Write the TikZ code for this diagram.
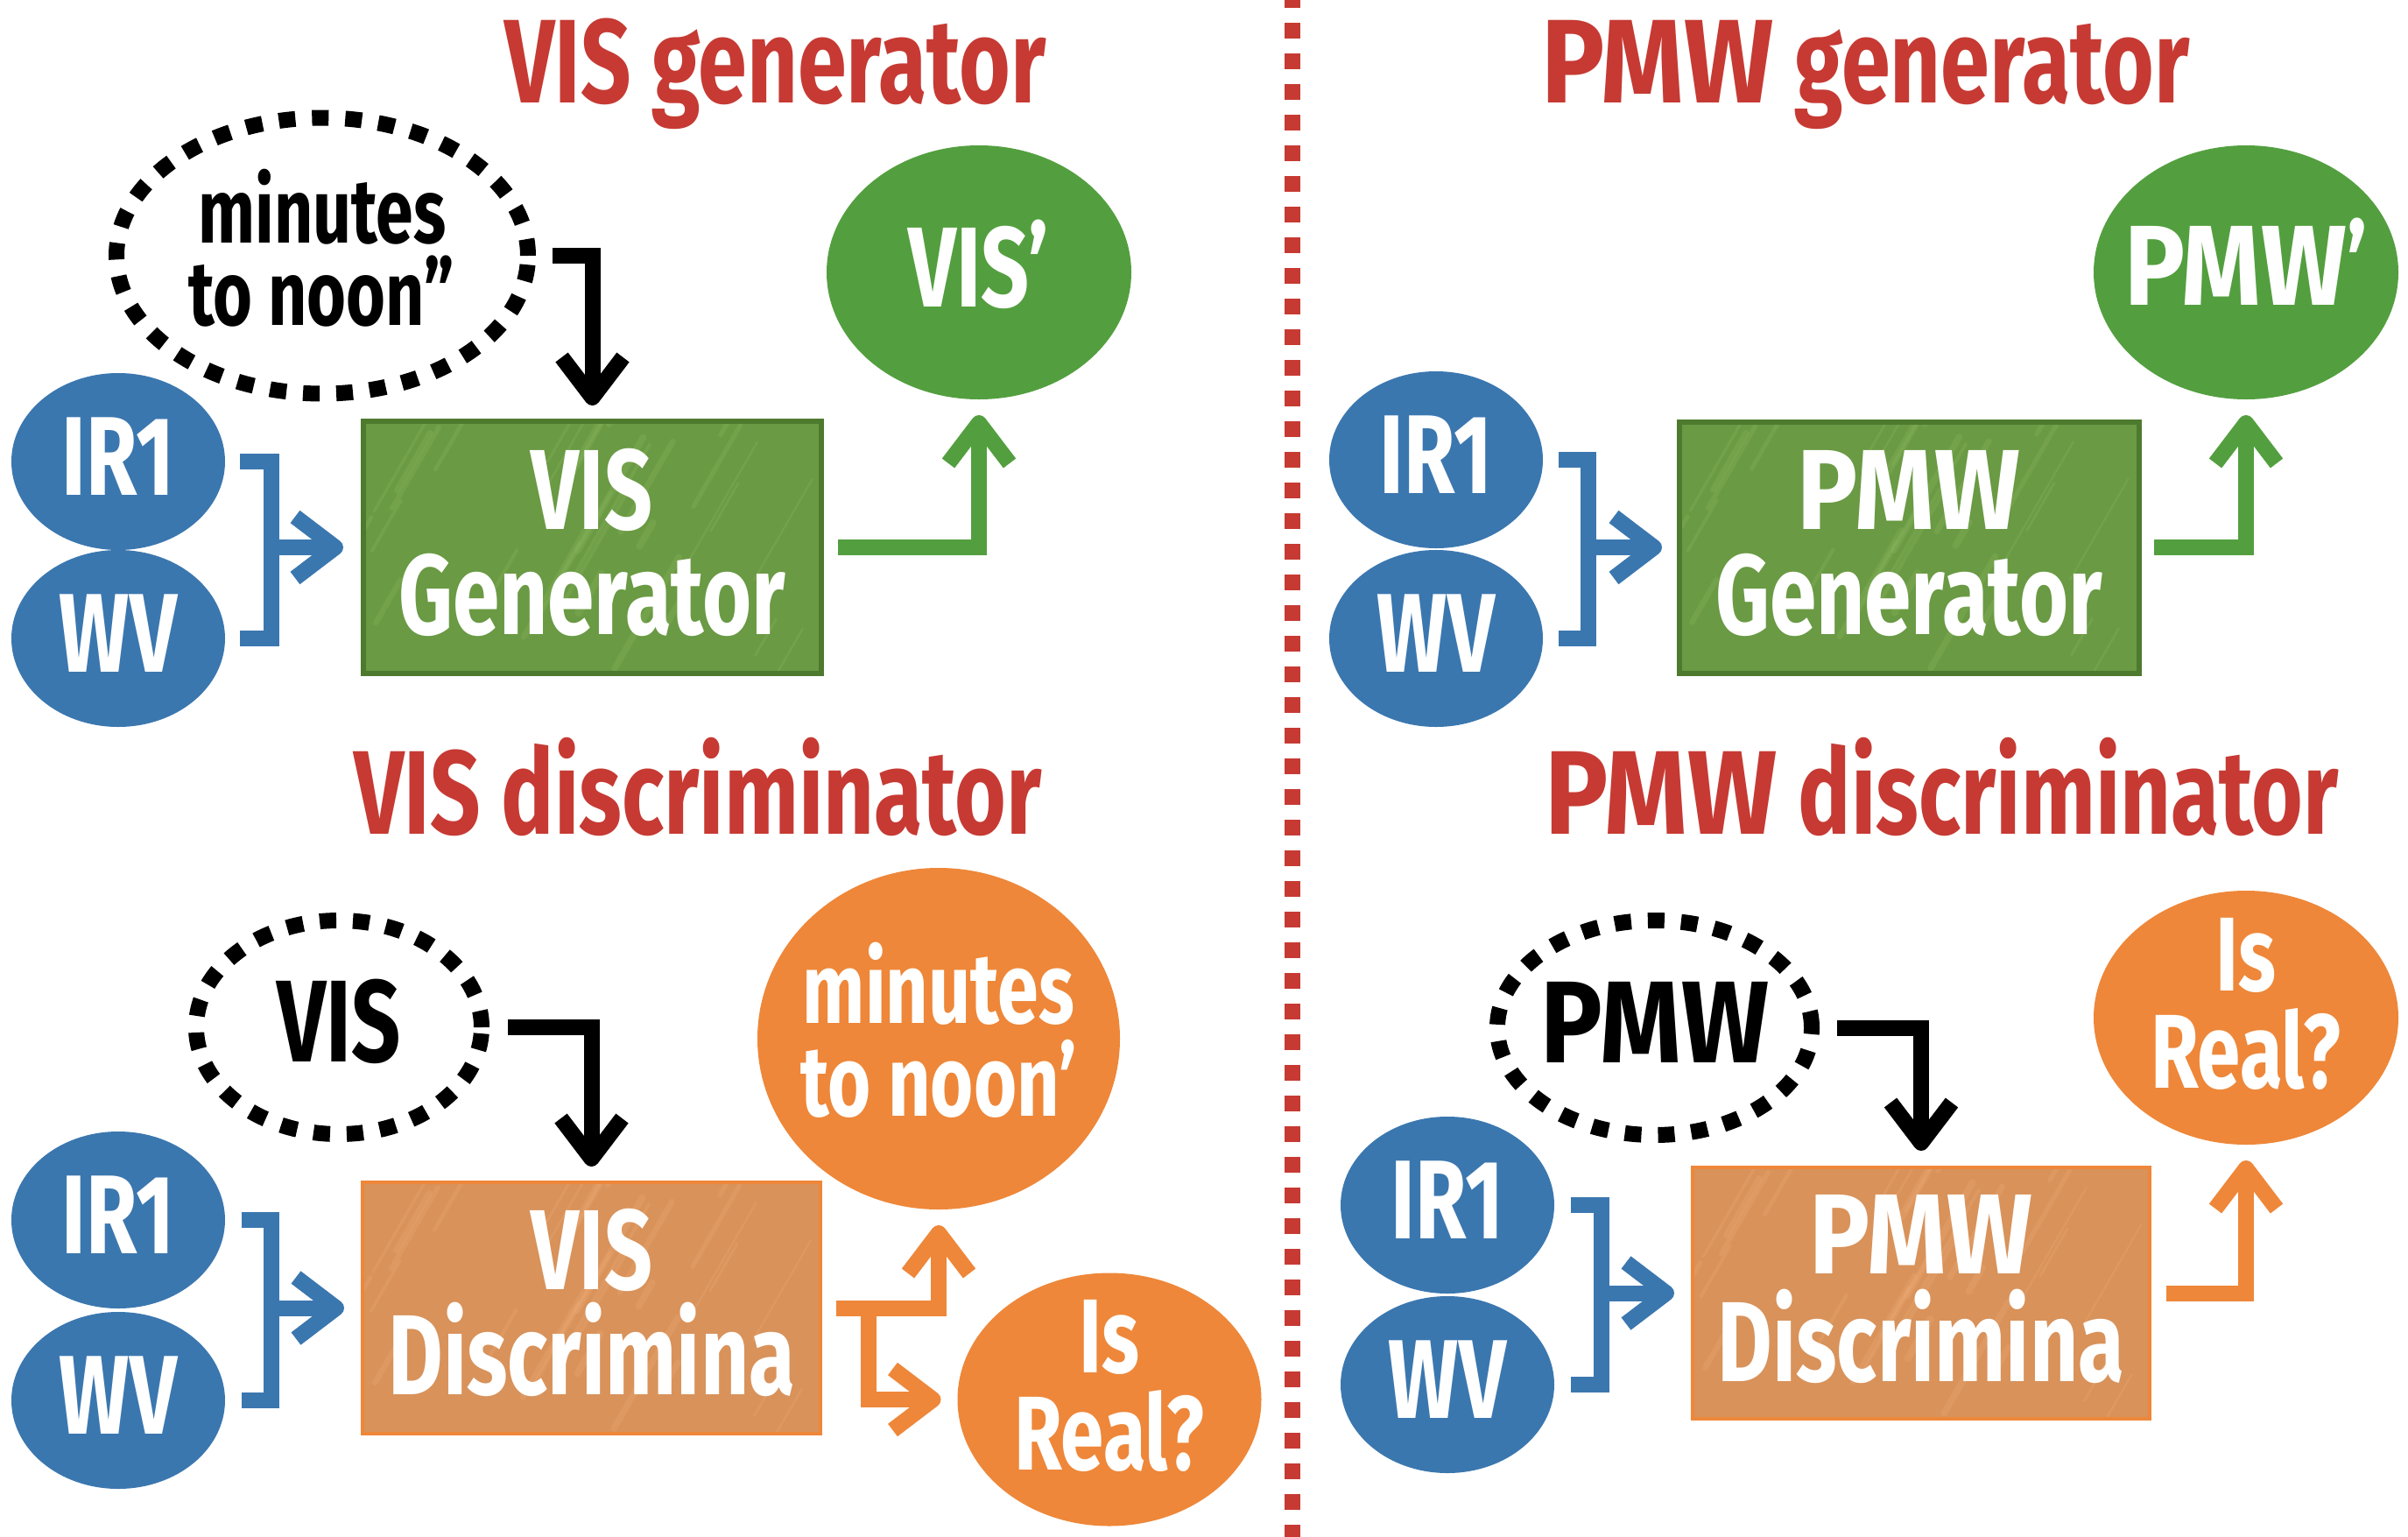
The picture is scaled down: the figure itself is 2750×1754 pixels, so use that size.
\documentclass[tikz,border=0pt]{standalone}
\usepackage{fontspec}
\usepackage{graphicx}
\setmainfont{Fira Sans}[FakeStretch=0.74]
\usetikzlibrary{arrows.meta,calc,shapes.geometric}
\definecolor{cblue}{HTML}{3B77AF}
\definecolor{cgreen}{HTML}{539F3F}
\definecolor{cgbox}{HTML}{6A9A44}
\definecolor{cgdark}{HTML}{4E7A2E}
\definecolor{cglite}{HTML}{8EBB62}
\definecolor{corange}{HTML}{EE8739}
\definecolor{cobox}{HTML}{D8925A}
\definecolor{colite}{HTML}{F2B07A}
\definecolor{cred}{HTML}{C63A33}
\newcommand\hf[1]{\fontsize{#1}{#1}\selectfont\bfseries}
\newcommand\pmwtxt{\scalebox{1.2}[1]{PMW}}
\newcommand\mystreaks[1]{%
  \pgfmathsetseed{11}%
  \foreach \k in {1,...,45}{%
    \pgfmathsetmacro\sx{rnd*760-220}%
    \pgfmathsetmacro\sy{rnd*300}%
    \pgfmathsetmacro\sl{30+rnd*150}%
    \pgfmathsetmacro\sw{2+rnd*7}%
    \draw[#1, line width=\sw pt, opacity=0.25, line cap=round]
      ($(path picture bounding box.south west)+(\sx,-\sy)$) -- ++(-60:\sl);
  }}
\tikzset{
  every node/.style={inner sep=0pt, outer sep=0pt},
  bluec/.style={ellipse, fill=cblue, minimum width=244pt, minimum height=202pt},
  gell/.style={ellipse, fill=cgreen, minimum width=348pt, minimum height=290pt},
  oell/.style={ellipse, fill=corange, minimum width=348pt, minimum height=290pt},
  dotell/.style={ellipse, draw=black, line width=18pt, dash pattern=on 19pt off 19pt},
  gbox/.style={rectangle, fill=cgbox, draw=cgdark, line width=6pt, path picture={\mystreaks{cglite}}},
  obox/.style={rectangle, fill=cobox, draw=corange, line width=4pt, path picture={\mystreaks{colite}}},
  wlab/.style={anchor=base, text=white, font=\hf{#1}},
  wlab/.default=128,
  klab/.style={anchor=base, text=black, font=\hf{#1}},
  klab/.default=133,
  ttl/.style={text=cred, font=\hf{136}},
  arrowtip/.style={-{Straight Barb[length=46pt,width=70pt,line join=round]}},
  kconn/.style={draw=black, line width=18pt, arrowtip},
  bline/.style={draw=cblue, line width=18pt},
  bconn/.style={draw=cblue, line width=18pt, arrowtip},
  gconn/.style={draw=cgreen, line width=18pt, arrowtip},
  oconn/.style={draw=corange, line width=18pt, arrowtip},
}
\begin{document}
\begin{tikzpicture}[x=1pt,y=-1pt]
\useasboundingbox (0,0) rectangle (2750,1754);
\fill[white] (0,0) rectangle (2750,1754);
% separator
\draw[cred, line width=18pt, dash pattern=on 18pt off 17pt] (1476,-9) -- (1476,1780);

% ---------- titles
\node[ttl, anchor=base east] (tA) at (1195,117) {VIS generator};
\node[ttl, anchor=base west] (tB) at (1760,117) {\pmwtxt{} generator};
\node[ttl, anchor=base east] (tC) at (1190,952) {VIS discriminator};
\node[ttl, anchor=base west] (tD) at (1764,952) {\pmwtxt{} discriminator};

% ---------- top left
\node[dotell, minimum width=470pt, minimum height=315pt] (dotA) at (368,292) {};
\node[klab=104] (tDotA1) at (368,277) {minutes};
\node[klab=104] (tDotA2) at (367,371) {to noon”};
\node[bluec] (irA) at (135,527) {};
\node[wlab] (tIrA) at (135,565) {IR1};
\node[bluec] (wvA) at (135,729) {};
\node[wlab] (tWvA) at (135,767) {WV};
\node[gbox, minimum width=523pt, minimum height=288pt] (genA) at (676.5,625) {};
\node[wlab=130] (tGenA1) at (676,604) {VIS};
\node[wlab=130] (tGenA2) at (676,724) {Generator};
\node[gell] (visP) at (1118,311) {};
\node[wlab=130] (tVisP) at (1118,350) {VIS’};

\draw[kconn] ([xshift=28pt]dotA.east) -| ([yshift=18pt]genA.north);
\coordinate (bkA) at ([xshift=53pt]irA.east);
\draw[bline] ([xshift=17pt]irA.east) -- (bkA) |- ([xshift=17pt]wvA.east);
\draw[bconn] (bkA |- genA.west) -- ([xshift=-23pt]genA.west);
\draw[gconn] ([xshift=19pt]genA.east) -| ([yshift=-18pt]visP.south);

% ---------- top right
\node[bluec] (irB) at (1640,525) {};
\node[wlab] (tIrB) at (1640,563) {IR1};
\node[bluec] (wvB) at (1640,729) {};
\node[wlab] (tWvB) at (1640,767) {WV};
\node[gbox, minimum width=525pt, minimum height=287pt] (genB) at (2180.5,625) {};
\node[wlab=130] (tGenB1) at (2180,604) {\pmwtxt};
\node[wlab=130] (tGenB2) at (2180,724) {Generator};
\node[gell] (pmwP) at (2565,311) {};
\node[wlab=130] (tPmwP) at (2565,348) {\pmwtxt’};

\coordinate (bkB) at ([xshift=52pt]irB.east);
\draw[bline] ([xshift=18pt]irB.east) -- (bkB) |- ([xshift=18pt]wvB.east);
\draw[bconn] (bkB |- genB.west) -- ([xshift=-20pt]genB.west);
\draw[gconn] ([xshift=17pt]genB.east) -| ([yshift=-18pt]pmwP.south);

% ---------- bottom left
\node[dotell, minimum width=326pt, minimum height=244pt] (dotC) at (387,1173) {};
\node[klab] (tDotC) at (387,1212) {VIS};
\node[bluec] (irC) at (135,1393) {};
\node[wlab] (tIrC) at (135,1431) {IR1};
\node[bluec] (wvC) at (135,1599) {};
\node[wlab] (tWvC) at (135,1637) {WV};
\node[obox, minimum width=523pt, minimum height=287pt] (discA) at (675.5,1493.5) {};
\node[wlab=130] (tDiscA1) at (676,1472) {VIS};
\node[wlab=130] (tDiscA2) at (676,1592) {Discrimina};
\node[oell, minimum width=414pt, minimum height=390pt] (mtnC) at (1072,1186) {};
\node[wlab=114] (tMtnC1) at (1072,1168) {minutes};
\node[wlab=114] (tMtnC2) at (1072,1274) {to noon’};
\node[oell, minimum width=347pt, minimum height=289pt] (isC) at (1267,1598) {};
\node[wlab=120] (tIsC1) at (1267,1567) {Is};
\node[wlab=120] (tIsC2) at (1267,1678) {Real?};

\draw[kconn] ([xshift=30pt]dotC.east) -| ([yshift=18pt]discA.north);
\coordinate (bkC) at ([xshift=53pt]irC.east);
\draw[bline] ([xshift=19pt]irC.east) -- (bkC) |- ([xshift=19pt]wvC.east);
\draw[bconn] (bkC |- discA.west) -- ([xshift=-21pt]discA.west);
\draw[oconn] ([xshift=18pt]discA.east) -| ([yshift=-18pt]mtnC.south);
\coordinate (spC) at ([xshift=55pt]discA.east);
\draw[oconn] (spC) |- ([xshift=-19pt]isC.west);

% ---------- bottom right
\node[dotell, minimum width=359pt, minimum height=245pt] (dotD) at (1889.5,1173.5) {};
\node[klab] (tDotD) at (1890,1213) {\pmwtxt};
\node[bluec] (irD) at (1653,1376) {};
\node[wlab] (tIrD) at (1653,1414) {IR1};
\node[bluec] (wvD) at (1653,1581) {};
\node[wlab] (tWvD) at (1653,1619) {WV};
\node[obox, minimum width=522pt, minimum height=287pt] (discB) at (2194,1476.5) {};
\node[wlab=130] (tDiscB1) at (2194,1454) {\pmwtxt};
\node[wlab=130] (tDiscB2) at (2194,1577) {Discrimina};
\node[oell] (isD) at (2565,1162) {};
\node[wlab=120] (tIsD1) at (2565,1131) {Is};
\node[wlab=120] (tIsD2) at (2565,1242) {Real?};

\draw[kconn] ([xshift=29pt]dotD.east) -| ([yshift=19pt]discB.north);
\coordinate (bkD) at ([xshift=54pt]irD.east);
\draw[bline] ([xshift=19pt]irD.east) -- (bkD) |- ([xshift=19pt]wvD.east);
\draw[bconn] (bkD |- discB.west) -- ([xshift=-21pt]discB.west);
\draw[oconn] ([xshift=19pt]discB.east) -| ([yshift=-18pt]isD.south);
\end{tikzpicture}
\end{document}
